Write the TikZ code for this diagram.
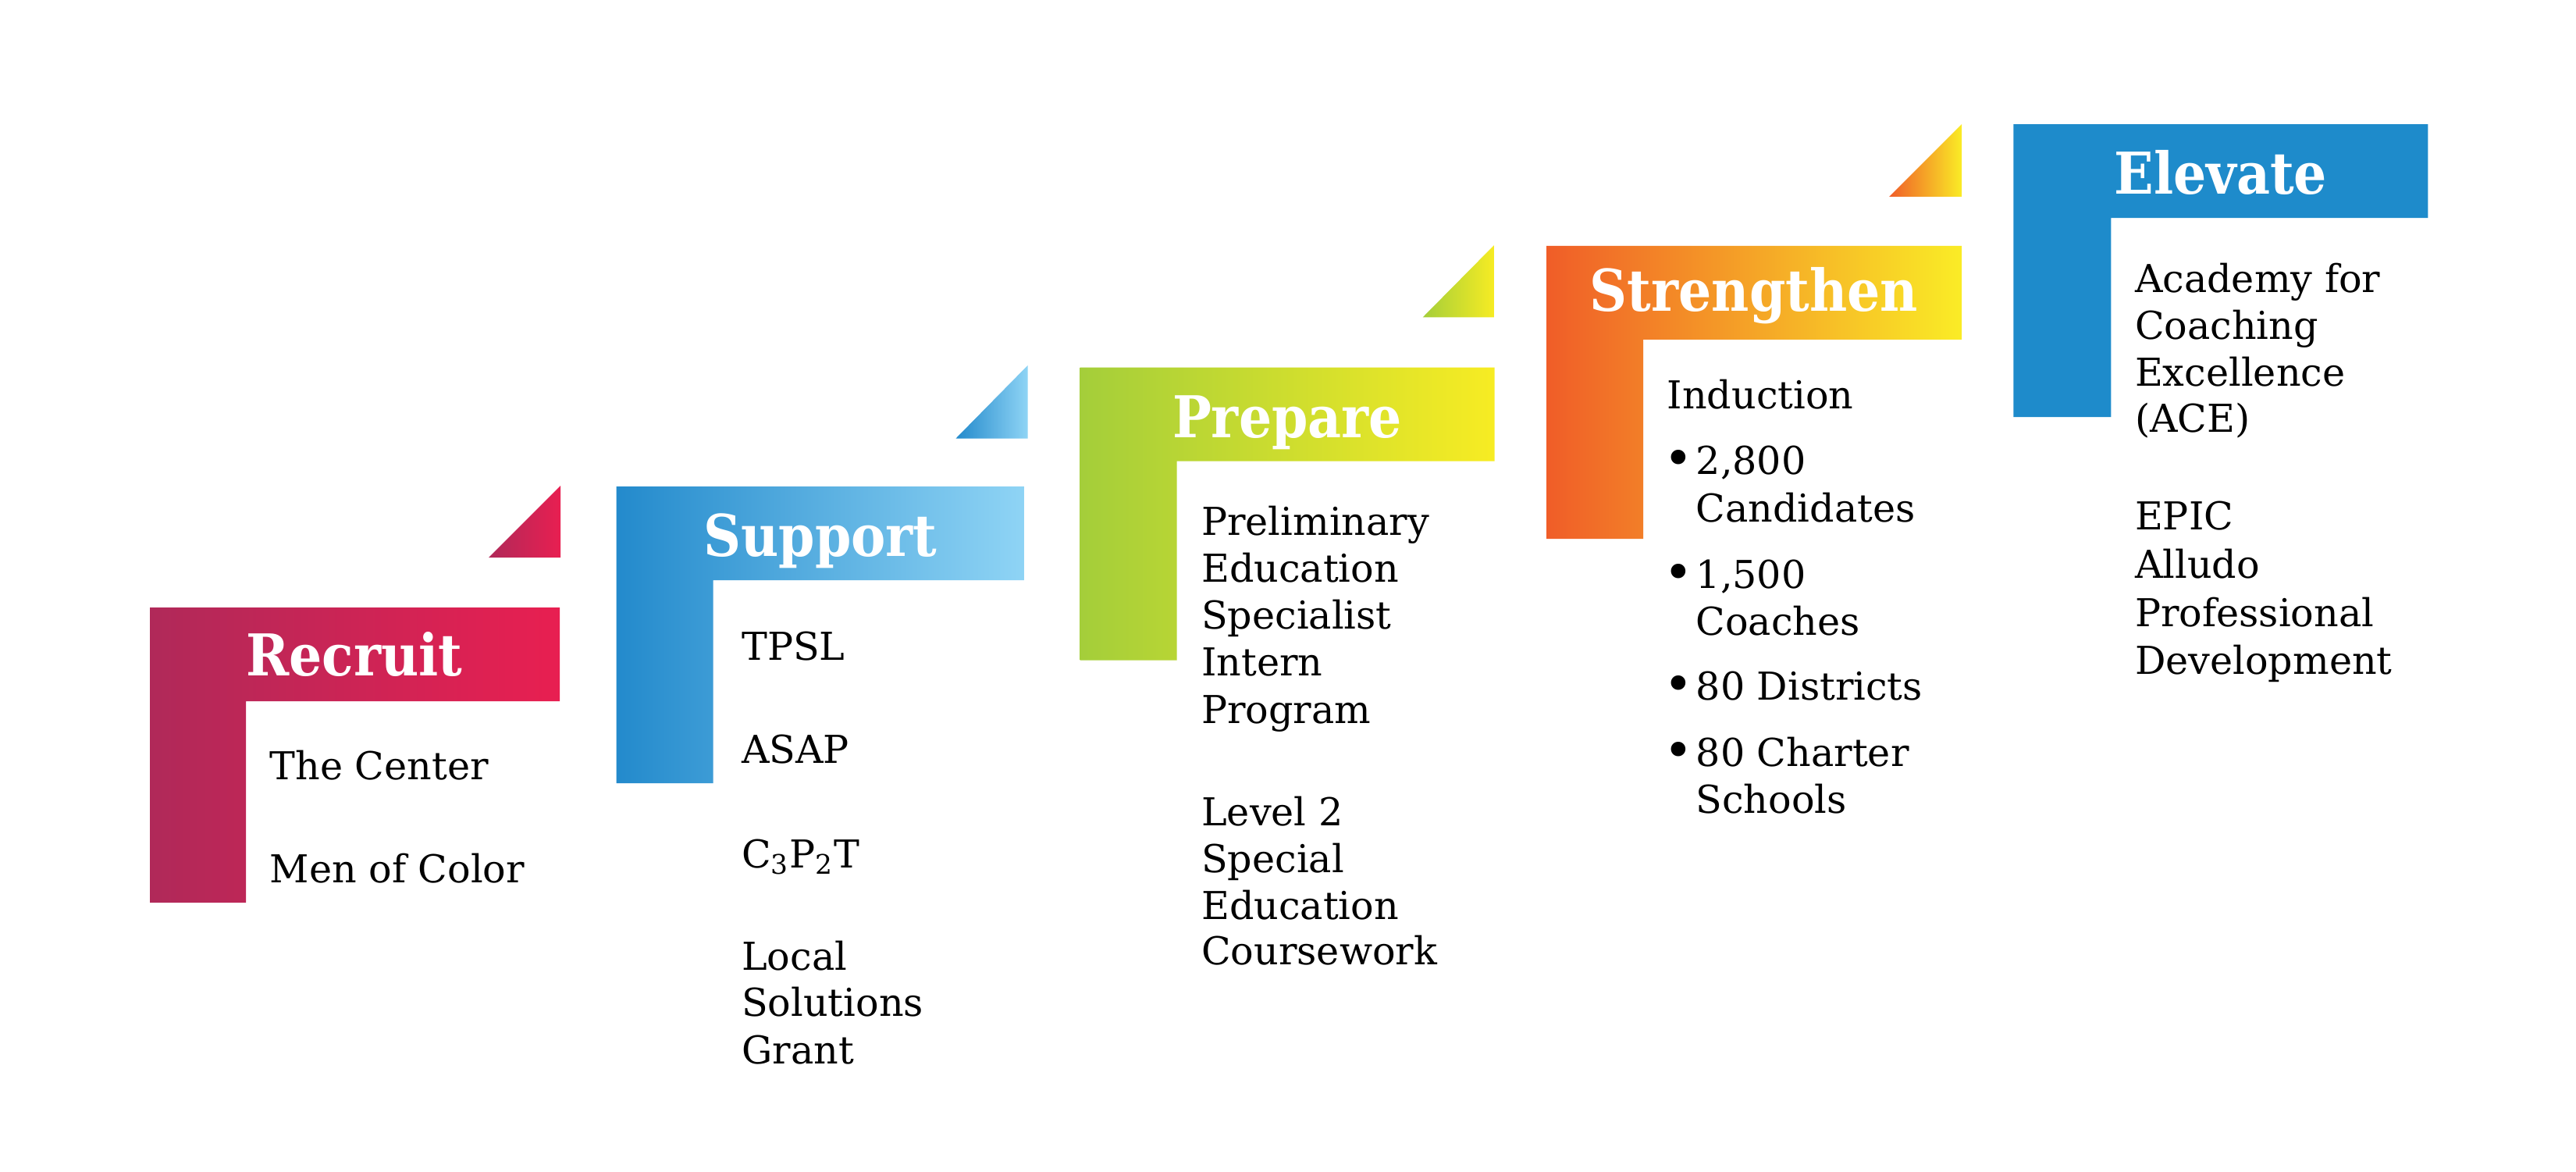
\documentclass[tikz,border=0pt]{standalone}
\usepackage{fontspec}
\setmainfont{DejaVu Serif}
\newfontfamily\titlefont{DejaVu Serif}[FakeStretch=0.9]
\usepackage{tikz}

\definecolor{recA}{RGB}{176,41,89}
\definecolor{recB}{RGB}{232,31,81}
\definecolor{supA}{RGB}{35,138,204}
\definecolor{supB}{RGB}{143,212,245}
\definecolor{preA}{RGB}{164,206,58}
\definecolor{preB}{RGB}{247,236,35}
\definecolor{strA}{RGB}{240,93,40}
\definecolor{strB}{RGB}{250,236,38}
\definecolor{eleA}{RGB}{30,139,203}

\newcommand{\dotmark}{\makebox[0.41cm][l]{\raisebox{-0.05em}{\scalebox{1.3}{•}}}}

\begin{document}
\begin{tikzpicture}[
  title/.style={font=\titlefont\bfseries\fontsize{21}{25}\selectfont, text=white, anchor=base, inner sep=0pt},
  item/.style={font=\fontsize{14}{17}\selectfont, anchor=base west, inner sep=0pt}
]
\useasboundingbox (0,0) rectangle (33,15);

% Recruit
\begin{scope}[shift={(1.92,7.22)}]
\shade[left color=recA, right color=recB] (0,0) -- (5.25,0) -- (5.25,-1.2) -- (1.23,-1.2) -- (1.23,-3.78) -- (0,-3.78) -- cycle;
\shade[left color=recA, right color=recB] (4.34,0.64) -- (5.26,0.64) -- (5.26,1.56) -- cycle;
\node[title] (recruit) at (2.62,-0.87) {Recruit};
\node[item] (center) at (1.53,-2.20) {The Center};
\node[item] (men) at (1.53,-3.52) {Men of Color};
\end{scope}

% Support
\begin{scope}[shift={(7.895,8.77)}]
\shade[left color=supA, right color=supB] (0,0) -- (5.23,0) -- (5.23,-1.2) -- (1.24,-1.2) -- (1.24,-3.80) -- (0,-3.80) -- cycle;
\shade[left color=supA, right color=supB] (4.35,0.615) -- (5.27,0.615) -- (5.27,1.55) -- cycle;
\node[title] (support) at (2.615,-0.89) {Support};
\node[item] (tpsl) at (1.60,-2.22) {TPSL};
\node[item] (asap) at (1.60,-3.54) {ASAP};
\node[item] (cpt) at (1.60,-4.88) {C\textsubscript{3}P\textsubscript{2}T};
\node[item] (local) at (1.60,-6.19) {Local};
\node[item] (solutions) at (1.60,-6.78) {Solutions};
\node[item] (grant) at (1.60,-7.39) {Grant};
\end{scope}

% Prepare
\begin{scope}[shift={(13.835,10.295)}]
\shade[left color=preA, right color=preB] (0,0) -- (5.31,0) -- (5.31,-1.2) -- (1.24,-1.2) -- (1.24,-3.75) -- (0,-3.75) -- cycle;
\shade[left color=preA, right color=preB] (4.39,0.64) -- (5.31,0.64) -- (5.31,1.57) -- cycle;
\node[title] (prepare) at (2.655,-0.90) {Prepare};
\node[item] (prelim) at (1.55,-2.15) {Preliminary};
\node[item] (educ) at (1.55,-2.75) {Education};
\node[item] (spec) at (1.55,-3.35) {Specialist};
\node[item] (intern) at (1.55,-3.95) {Intern};
\node[item] (program) at (1.55,-4.555) {Program};
\node[item] (level) at (1.55,-5.865) {Level 2};
\node[item] (special) at (1.55,-6.465) {Special};
\node[item] (educb) at (1.55,-7.065) {Education};
\node[item] (course) at (1.55,-7.645) {Coursework};
\end{scope}

% Strengthen
\begin{scope}[shift={(19.81,11.85)}]
\shade[left color=strA, right color=strB] (0,0) -- (5.32,0) -- (5.32,-1.2) -- (1.24,-1.2) -- (1.24,-3.75) -- (0,-3.75) -- cycle;
\shade[left color=strA, right color=strB] (4.39,0.63) -- (5.32,0.63) -- (5.32,1.56) -- cycle;
\node[title] (strengthen) at (2.66,-0.835) {Strengthen};
\node[item] (induction) at (1.54,-2.08) {Induction};
\node[item] (cand) at (1.50,-2.92) {\dotmark 2,800};
\node[item] (candb) at (1.91,-3.53) {Candidates};
\node[item] (coach) at (1.50,-4.38) {\dotmark 1,500};
\node[item] (coachb) at (1.91,-4.98) {Coaches};
\node[item] (dist) at (1.50,-5.81) {\dotmark 80 Districts};
\node[item] (charter) at (1.50,-6.66) {\dotmark 80 Charter};
\node[item] (schools) at (1.91,-7.26) {Schools};
\end{scope}

% Elevate
\begin{scope}[shift={(25.793,13.408)}]
\fill[eleA] (0,0) -- (5.31,0) -- (5.31,-1.2) -- (1.25,-1.2) -- (1.25,-3.75) -- (0,-3.75) -- cycle;
\node[title] (elevate) at (2.655,-0.89) {Elevate};
\node[item] (academy) at (1.55,-2.15) {Academy for};
\node[item] (coaching) at (1.55,-2.75) {Coaching};
\node[item] (excel) at (1.55,-3.35) {Excellence};
\node[item] (ace) at (1.55,-3.94) {(ACE)};
\node[item] (epic) at (1.55,-5.19) {EPIC};
\node[item] (alludo) at (1.55,-5.81) {Alludo};
\node[item] (prof) at (1.55,-6.43) {Professional};
\node[item] (devel) at (1.55,-7.045) {Development};
\end{scope}

\end{tikzpicture}
\end{document}
